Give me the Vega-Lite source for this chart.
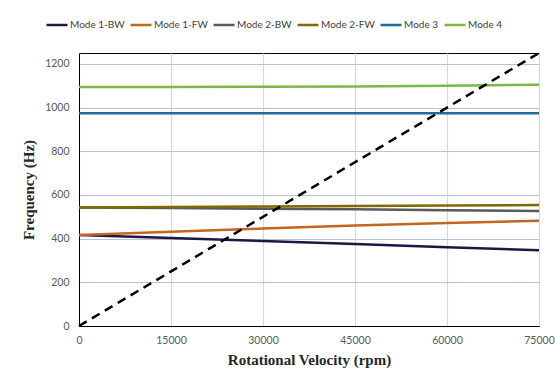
{
  "$schema": "https://vega.github.io/schema/vega-lite/v6.json",
  "autosize": "none",
  "width": 460,
  "height": 273,
  "padding": {"left": 79, "top": 53, "right": 16, "bottom": 57},
  "background": "white",
  "config": {
    "view": {"stroke": "#000000", "strokeWidth": 1},
    "axis": {"labelFont": "Lato", "labelFontSize": 10.5, "labelColor": "#595959", "titleFont": "Liberation Serif", "titleFontSize": 15, "titleFontWeight": "bold", "titleColor": "#262626", "domainColor": "#000000", "ticks": false, "labelFlush": false}
  },
  "datasets": {
    "modes": [
      {"mode": "Mode 1-BW", "rpm": 0, "freq": 417},
      {"mode": "Mode 1-BW", "rpm": 15000, "freq": 403},
      {"mode": "Mode 1-BW", "rpm": 30000, "freq": 389},
      {"mode": "Mode 1-BW", "rpm": 45000, "freq": 375},
      {"mode": "Mode 1-BW", "rpm": 60000, "freq": 361},
      {"mode": "Mode 1-BW", "rpm": 75000, "freq": 347},
      {"mode": "Mode 1-FW", "rpm": 0, "freq": 417},
      {"mode": "Mode 1-FW", "rpm": 15000, "freq": 431},
      {"mode": "Mode 1-FW", "rpm": 30000, "freq": 446},
      {"mode": "Mode 1-FW", "rpm": 45000, "freq": 460},
      {"mode": "Mode 1-FW", "rpm": 60000, "freq": 472},
      {"mode": "Mode 1-FW", "rpm": 75000, "freq": 482},
      {"mode": "Mode 2-BW", "rpm": 0, "freq": 543},
      {"mode": "Mode 2-BW", "rpm": 15000, "freq": 540},
      {"mode": "Mode 2-BW", "rpm": 30000, "freq": 537},
      {"mode": "Mode 2-BW", "rpm": 45000, "freq": 534},
      {"mode": "Mode 2-BW", "rpm": 60000, "freq": 530},
      {"mode": "Mode 2-BW", "rpm": 75000, "freq": 527},
      {"mode": "Mode 2-FW", "rpm": 0, "freq": 543},
      {"mode": "Mode 2-FW", "rpm": 15000, "freq": 545},
      {"mode": "Mode 2-FW", "rpm": 30000, "freq": 547},
      {"mode": "Mode 2-FW", "rpm": 45000, "freq": 550},
      {"mode": "Mode 2-FW", "rpm": 60000, "freq": 552},
      {"mode": "Mode 2-FW", "rpm": 75000, "freq": 554},
      {"mode": "Mode 3", "rpm": 0, "freq": 974},
      {"mode": "Mode 3", "rpm": 75000, "freq": 974},
      {"mode": "Mode 4", "rpm": 0, "freq": 1094},
      {"mode": "Mode 4", "rpm": 15000, "freq": 1094},
      {"mode": "Mode 4", "rpm": 30000, "freq": 1095},
      {"mode": "Mode 4", "rpm": 45000, "freq": 1097},
      {"mode": "Mode 4", "rpm": 60000, "freq": 1100},
      {"mode": "Mode 4", "rpm": 75000, "freq": 1105}
    ],
    "speed": [
      {"rpm": 0, "freq": 0},
      {"rpm": 75000, "freq": 1250}
    ]
  },
  "layer": [
    {
      "data": {"name": "modes"},
      "mark": {"type": "line", "strokeWidth": 2.5},
      "encoding": {
        "x": {"field": "rpm", "type": "quantitative", "title": "Rotational Velocity (rpm)",
              "scale": {"domain": [0, 75000], "nice": false},
              "axis": {"values": [0, 15000, 30000, 45000, 60000, 75000], "format": "d", "gridColor": "#d9d9d9", "gridWidth": 1.2, "labelPadding": 9, "titlePadding": 7}},
        "y": {"field": "freq", "type": "quantitative", "title": "Frequency (Hz)",
              "scale": {"domain": [0, 1250], "nice": false},
              "axis": {"values": [0, 200, 400, 600, 800, 1000, 1200], "format": "d", "gridColor": "#b4c2dc", "labelPadding": 10, "titlePadding": 8}},
        "color": {"field": "mode", "type": "nominal",
                  "scale": {"domain": ["Mode 1-BW", "Mode 1-FW", "Mode 2-BW", "Mode 2-FW", "Mode 3", "Mode 4"],
                            "range": ["#1c1845", "#c4661f", "#595959", "#7f6a00", "#236a96", "#7cb940"]},
                  "legend": {"title": null, "orient": "none", "legendX": -34, "legendY": -40, "direction": "horizontal",
                             "gridAlign": "each", "padding": 0,
                             "symbolType": "stroke", "symbolStrokeWidth": 2.5, "symbolSize": 441,
                             "labelFont": "Lato", "labelFontSize": 10, "labelColor": "#404040",
                             "columnPadding": 0, "labelOffset": 1}}
      }
    },
    {
      "data": {"name": "speed"},
      "mark": {"type": "line", "color": "#000000", "strokeWidth": 2.5, "strokeDash": [9, 6]},
      "encoding": {
        "x": {"field": "rpm", "type": "quantitative"},
        "y": {"field": "freq", "type": "quantitative"}
      }
    }
  ]
}
